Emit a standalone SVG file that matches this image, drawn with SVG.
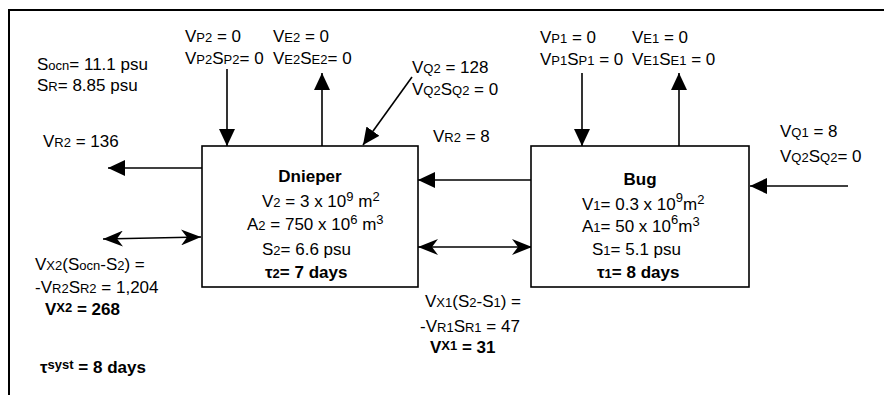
<svg xmlns="http://www.w3.org/2000/svg" width="884" height="395" viewBox="0 0 884 395">
<style>
text{font-family:"Liberation Sans",Arial,sans-serif;font-size:17px;fill:#000}
.s{font-size:13px}
.b{font-weight:bold}
.ln{stroke:#000;stroke-width:1.6;fill:none}
.box{stroke:#000;stroke-width:1.6;fill:#fff}
</style>
<defs>
<marker id="tri" markerUnits="userSpaceOnUse" markerWidth="18" markerHeight="16" refX="17" refY="8" orient="auto"><path d="M0,0 L17,8 L0,16 z" fill="#000"/></marker>
<marker id="st" markerUnits="userSpaceOnUse" markerWidth="22" markerHeight="16" refX="20" refY="8" orient="auto-start-reverse"><path d="M0,0 L20,8 L0,16 L6,8 z" fill="#000"/></marker>
</defs>
<rect width="884" height="395" fill="#fff"/>
<path d="M9,395 V10 H884" stroke="#000" stroke-width="2" fill="none"/>
<g id="connectors">
<line class="ln" x1="227" y1="69" x2="227" y2="146" marker-end="url(#tri)"/>
<line class="ln" x1="322" y1="146" x2="322" y2="73" marker-end="url(#tri)"/>
<line class="ln" x1="412" y1="77" x2="363" y2="145" marker-end="url(#tri)"/>
<line class="ln" x1="582" y1="73" x2="582" y2="146" marker-end="url(#tri)"/>
<line class="ln" x1="679" y1="146" x2="679" y2="73" marker-end="url(#tri)"/>
<line class="ln" x1="202" y1="168" x2="108" y2="168" marker-end="url(#tri)"/>
<line class="ln" x1="103" y1="239" x2="201" y2="237" marker-start="url(#st)" marker-end="url(#st)"/>
<line class="ln" x1="531" y1="180" x2="418" y2="180" marker-end="url(#tri)"/>
<line class="ln" x1="418" y1="247" x2="532" y2="247" marker-start="url(#st)" marker-end="url(#st)"/>
<line class="ln" x1="848" y1="186" x2="750" y2="186" marker-end="url(#tri)"/>
</g>
<g id="dnieper">
<rect class="box" x="202" y="146" width="216" height="141"/>
<text class="b" x="310" y="182" text-anchor="middle">Dnieper</text>
<text x="262" y="207">V<tspan class="s">2</tspan> = 3 x 10<tspan class="s" dy="-6">9</tspan><tspan dy="6"> m</tspan><tspan class="s" dy="-6">2</tspan></text>
<text x="247" y="230">A<tspan class="s">2</tspan> = 750 x 10<tspan class="s" dy="-6">6</tspan><tspan dy="6"> m</tspan><tspan class="s" dy="-6">3</tspan></text>
<text x="262" y="255">S<tspan class="s">2</tspan>= 6.6 psu</text>
<text class="b" x="265" y="278">τ<tspan class="s">2</tspan>= 7 days</text>
</g>
<g id="bug">
<rect class="box" x="531" y="146" width="218" height="141"/>
<text class="b" x="640" y="185" text-anchor="middle">Bug</text>
<text x="582" y="210">V<tspan class="s">1</tspan>= 0.3 x 10<tspan class="s" dy="-8">9</tspan><tspan dy="8">m</tspan><tspan class="s" dy="-6">2</tspan></text>
<text x="582" y="232">A<tspan class="s">1</tspan>= 50 x 10<tspan class="s" dy="-8">6</tspan><tspan dy="8">m</tspan><tspan class="s" dy="-6">3</tspan></text>
<text x="592" y="255">S<tspan class="s">1</tspan>= 5.1 psu</text>
<text class="b" x="597" y="278">τ<tspan class="s">1</tspan>= 8 days</text>
</g>
<g id="labels">
<text x="37" y="70">S<tspan class="s">ocn</tspan>= 11.1 psu</text>
<text x="37" y="91">S<tspan class="s">R</tspan>= 8.85 psu</text>
<text x="185" y="42">V<tspan class="s">P2</tspan> = 0</text>
<text x="185" y="64">V<tspan class="s">P2</tspan>S<tspan class="s">P2</tspan>= 0</text>
<text x="273" y="42">V<tspan class="s">E2</tspan> = 0</text>
<text x="273" y="64">V<tspan class="s">E2</tspan>S<tspan class="s">E2</tspan>= 0</text>
<text x="412" y="73">V<tspan class="s">Q2</tspan> = 128</text>
<text x="412" y="95">V<tspan class="s">Q2</tspan>S<tspan class="s">Q2</tspan> = 0</text>
<text x="540" y="43">V<tspan class="s">P1</tspan> = 0</text>
<text x="540" y="65">V<tspan class="s">P1</tspan>S<tspan class="s">P1</tspan> = 0</text>
<text x="632" y="43">V<tspan class="s">E1</tspan> = 0</text>
<text x="632" y="65">V<tspan class="s">E1</tspan>S<tspan class="s">E1</tspan> = 0</text>
<text x="780" y="137">V<tspan class="s">Q1</tspan> = 8</text>
<text x="780" y="162">V<tspan class="s">Q2</tspan>S<tspan class="s">Q2</tspan>= 0</text>
<text x="43" y="147">V<tspan class="s">R2</tspan> = 136</text>
<text x="433" y="142">V<tspan class="s">R2</tspan> = 8</text>
<text x="35" y="270">V<tspan class="s">X2</tspan>(S<tspan class="s">ocn</tspan>-S<tspan class="s">2</tspan>) =</text>
<text x="35" y="293">-V<tspan class="s">R2</tspan>S<tspan class="s">R2</tspan> = 1,204</text>
<text class="b" x="45" y="315">V<tspan class="s" dy="-3">X2</tspan><tspan dy="3"> = 268</tspan></text>
<text class="b" x="40" y="373">τ<tspan class="s" dy="-4">syst</tspan><tspan dy="4"> = 8 days</tspan></text>
<text x="425" y="307">V<tspan class="s">X1</tspan>(S<tspan class="s">2</tspan>-S<tspan class="s">1</tspan>) =</text>
<text x="420" y="332">-V<tspan class="s">R1</tspan>S<tspan class="s">R1</tspan> = 47</text>
<text class="b" x="430" y="353">V<tspan class="s" dy="-3">X1</tspan><tspan dy="3"> = 31</tspan></text>
</g>
</svg>
